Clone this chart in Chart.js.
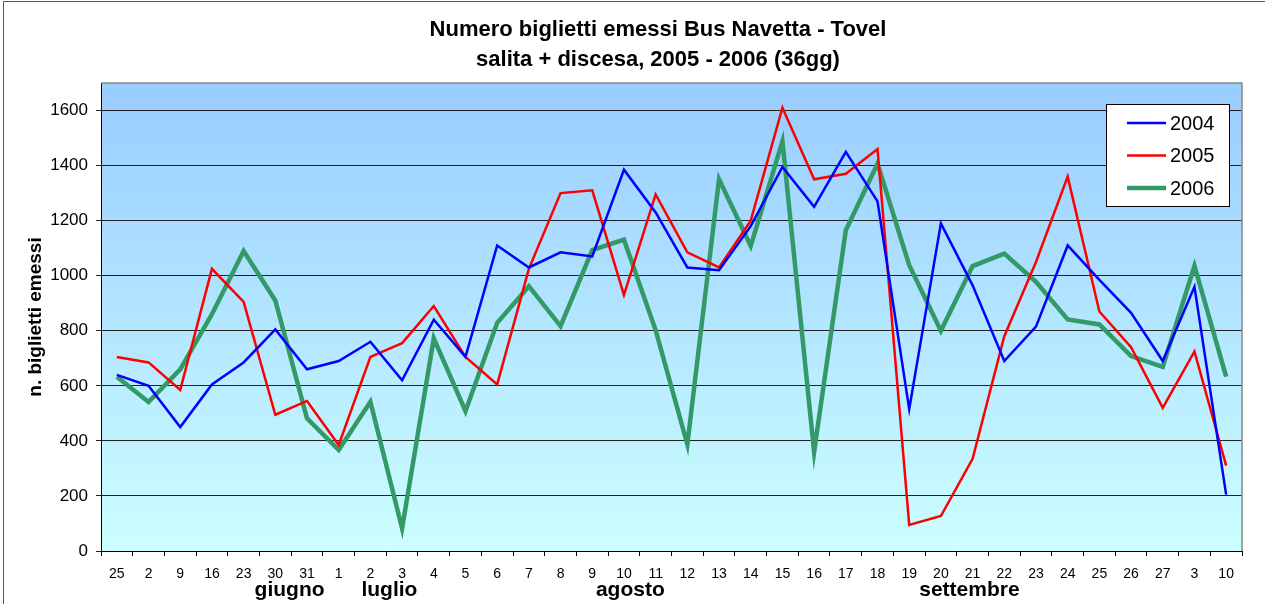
<!DOCTYPE html>
<html>
<head>
<meta charset="utf-8">
<script src="https://cdn.jsdelivr.net/npm/chart.js@4/dist/chart.umd.min.js"></script>
<style>
  html, body { margin: 0; padding: 0; background: #fff; }
  #wrap { width: 1265px; height: 604px; position: relative; }
</style>
</head>
<body>
<div id="wrap"><canvas id="bigliettiChart"></canvas></div>
<script>
// giorni (categorie asse x)
const giorni = ["25", "2", "9", "16", "23", "30", "31", "1", "2", "3", "4", "5", "6", "7", "8", "9", "10", "11",
    "12", "13", "14", "15", "16", "17", "18", "19", "20", "21", "22", "23", "24", "25", "26", "27", "3", "10"];

const anni = ["2004", "2005", "2006"];

const valori2004 = [640, 600, 450, 605, 685, 805, 660, 690, 760, 620, 840, 705, 1110, 1030, 1085, 1070, 1385, 1230,
    1030, 1020, 1180, 1395, 1250, 1450, 1270, 515, 1190, 965, 690, 815, 1110, 985, 865, 690, 960, 205];

const valori2005 = [705, 685, 585, 1025, 905, 495, 545, 385, 705, 755, 890, 705, 605, 1025, 1300, 1310, 930, 1295,
    1085, 1030, 1200, 1610, 1350, 1370, 1460, 95, 127, 335, 780, 1050, 1360, 870, 740, 520, 725, 310];

const valori2006 = [633, 541, 660, 860, 1090, 910, 482, 367, 542, 82, 772, 508, 829, 962, 817, 1093, 1131, 802,
    387, 1350, 1108, 1488, 360, 1165, 1407, 1038, 800, 1035, 1080, 978, 841, 823, 708, 669, 1036, 633];

// mesi e posizione (indice categoria) sotto l'asse
const mesi = ["giugno", "luglio", "agosto", "settembre"];
const mesiPos = [5.45, 8.6, 16.2, 26.9];

const yTicks = [0, 200, 400, 600, 800, 1000, 1200, 1400, 1600];

const titolo = ["Numero biglietti emessi Bus Navetta - Tovel", "salita + discesa, 2005 - 2006 (36gg)"];

const FONT = "'Liberation Sans', Arial, sans-serif";

const sfondoPlugin = {
    id: "sfondo",
    beforeDraw(chart) {
        const { ctx, chartArea: a } = chart;
        ctx.save();
        ctx.fillStyle = "#fff";
        ctx.fillRect(0, 0, chart.width, chart.height);
        ctx.strokeStyle = "#555";
        ctx.lineWidth = 1;
        ctx.beginPath();
        ctx.moveTo(3.5, chart.height);
        ctx.lineTo(3.5, 1.5);
        ctx.lineTo(chart.width, 1.5);
        ctx.stroke();
        const g = ctx.createLinearGradient(0, a.top, 0, a.bottom);
        g.addColorStop(0, "#99ccff");
        g.addColorStop(1, "#ccffff");
        ctx.fillStyle = g;
        ctx.fillRect(a.left, a.top, a.right - a.left, a.bottom - a.top);
        ctx.restore();
    },
    afterDraw(chart) {
        const { ctx, chartArea: a, scales } = chart;
        ctx.save();
        // cornice area grafico
        ctx.strokeStyle = "#888";
        ctx.lineWidth = 1.5;
        ctx.beginPath();
        ctx.moveTo(a.left, a.top);
        ctx.lineTo(a.right, a.top);
        ctx.lineTo(a.right, a.bottom);
        ctx.stroke();

        // titolo
        ctx.fillStyle = "#000";
        ctx.font = "bold 22px " + FONT;
        ctx.textAlign = "center";
        ctx.textBaseline = "middle";
        titolo.forEach((riga, i) => ctx.fillText(riga, 658, 30 + i * 30));

        // mesi
        ctx.font = "bold 21px " + FONT;
        mesi.forEach((m, i) => {
            ctx.fillText(m, scales.x.getPixelForValue(mesiPos[i]), 590);
        });

        // legenda
        const lx = 1106, ly = 104, lw = 123, lh = 102;
        ctx.fillStyle = "#fff";
        ctx.fillRect(lx, ly, lw, lh);
        ctx.strokeStyle = "#000";
        ctx.lineWidth = 1;
        ctx.strokeRect(lx + 0.5, ly + 0.5, lw, lh);
        ctx.font = "20px " + FONT;
        ctx.textAlign = "left";
        chart.data.datasets.forEach((ds, i) => {
            const y = ly + 19 + i * 32.5;
            ctx.strokeStyle = ds.borderColor;
            ctx.lineWidth = ds.borderWidth;
            ctx.beginPath();
            ctx.moveTo(lx + 21, y);
            ctx.lineTo(lx + 60, y);
            ctx.stroke();
            ctx.fillStyle = "#000";
            ctx.fillText(ds.label, lx + 64, y + 1);
        });
        ctx.restore();
    }
};

const ctx = document.getElementById("bigliettiChart").getContext("2d");

let chart = new Chart(ctx, {
    type: "line",
    data: {
        labels: giorni,
        datasets: [
            { label: anni[0], data: valori2004, borderColor: "#0000ff", borderWidth: 2.5 },
            { label: anni[1], data: valori2005, borderColor: "#ff0000", borderWidth: 2.5 },
            { label: anni[2], data: valori2006, borderColor: "#339966", borderWidth: 4.5 }
        ]
    },
    options: {
        responsive: true,
        maintainAspectRatio: false,
        animation: false,
        elements: {
            point: { radius: 0, hoverRadius: 0 },
            line: { tension: 0, borderJoinStyle: "miter", borderCapStyle: "butt" }
        },
        layout: { padding: { left: 0, right: 23, top: 83, bottom: 0 } },
        plugins: {
            legend: { display: false },
            tooltip: { enabled: false },
            title: { display: false }
        },
        scales: {
            x: {
                offset: true,
                grid: { display: true, offset: true, drawOnChartArea: false, color: "#000", tickLength: 5 },
                border: { color: "#000", width: 1 },
                ticks: {
                    color: "#000", autoSkip: false, maxRotation: 0, padding: 10,
                    font: { family: FONT, size: 14 }
                },
                afterFit(s) { s.height = 53; }
            },
            y: {
                min: 0,
                max: 1700,
                grid: { color: "#222", tickLength: 5 },
                border: { color: "#000", width: 1 },
                ticks: {
                    color: "#000", padding: 8, font: { family: FONT, size: 17 },
                    callback: v => String(v)
                },
                afterBuildTicks(s) { s.ticks = yTicks.map(v => ({ value: v })); },
                title: {
                    display: true,
                    text: "n. biglietti emessi",
                    color: "#000",
                    font: { family: FONT, size: 19, weight: "bold" },
                    padding: { top: 24, bottom: 0 }
                },
                afterFit(s) { s.width = 101; }
            }
        }
    },
    plugins: [sfondoPlugin]
});
</script>
</body>
</html>
